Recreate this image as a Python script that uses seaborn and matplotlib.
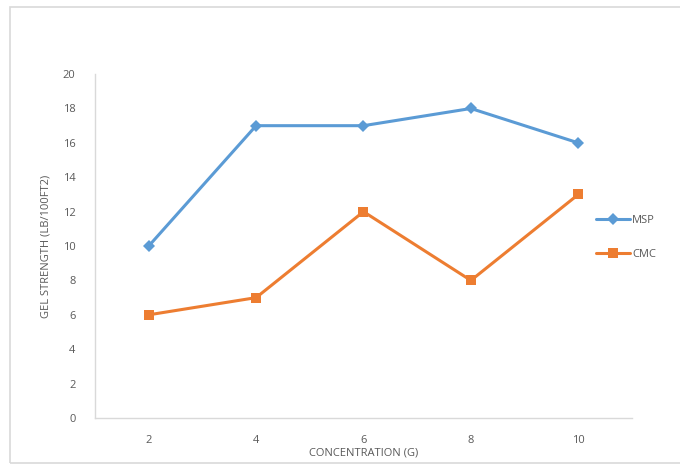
import pandas as pd
import matplotlib.pyplot as plt
import seaborn as sns
from matplotlib.patches import Rectangle

# Data
concentration = ["2", "4", "6", "8", "10"]
msp = [10, 17, 17, 18, 16]
cmc = [6, 7, 12, 8, 13]

df = pd.DataFrame({"conc": concentration * 2,
                   "value": msp + cmc,
                   "series": ["MSP"] * 5 + ["CMC"] * 5})

sns.set_style("white")
plt.rcParams['font.family'] = ['Open Sans', 'DejaVu Sans']
text_color = "#595959"

fig = plt.figure(figsize=(6.8, 4.66), dpi=100)
ax = fig.add_axes([0.1397, 0.103, 0.7897, 0.738])

# Frame around the chart area
fig.patches.append(Rectangle((10 / 680, 3 / 466), 1.0, 456 / 466,
                             transform=fig.transFigure, fill=False,
                             edgecolor="#d9d9d9", linewidth=1.2))

palette = {"MSP": "#5B9BD5", "CMC": "#ED7D31"}
sns.lineplot(data=df, x="conc", y="value", hue="series", style="series",
             markers={"MSP": "D", "CMC": "s"}, dashes=False,
             palette=palette, linewidth=2.2, markersize=6.5,
             markeredgewidth=0, ax=ax, sort=False)

ax.set_xlim(-0.5, 4.5)
ax.set_ylim(0, 20)
ax.set_yticks(range(0, 21, 2))

for side in ["top", "right"]:
    ax.spines[side].set_visible(False)
for side in ["left", "bottom"]:
    ax.spines[side].set_color("#d9d9d9")
    ax.spines[side].set_linewidth(1)

ax.tick_params(axis="both", length=0, labelsize=8, labelcolor=text_color)
ax.tick_params(axis="y", pad=14)
ax.tick_params(axis="x", pad=12)

ax.set_xlabel("CONCENTRATION (G)", fontsize=8, color=text_color, labelpad=1)
ax.set_ylabel("GEL STRENGTH (LB/100FT2)", fontsize=8, color=text_color, labelpad=8)

ax.legend(loc="center left", bbox_to_anchor=(0.915, 0.525), frameon=False,
          fontsize=8, labelcolor=text_color, handlelength=3.0,
          handletextpad=0.2, labelspacing=2.0)

fig.savefig("out.png", dpi=100)
